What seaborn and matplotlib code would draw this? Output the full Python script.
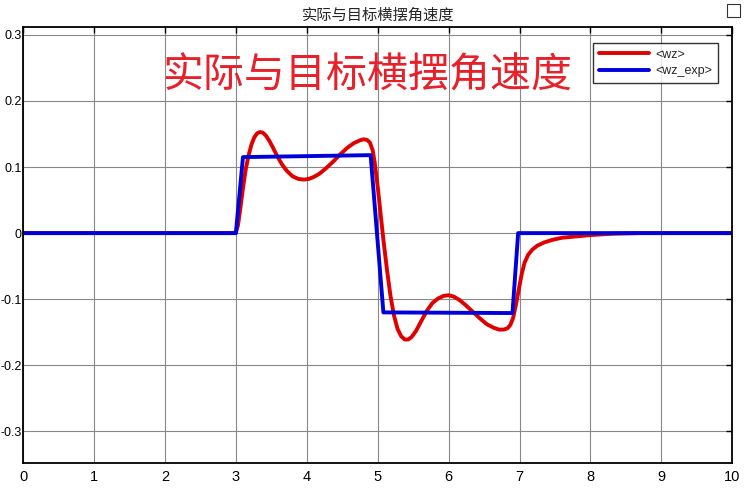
import pandas as pd
import matplotlib
matplotlib.use("Agg")
import matplotlib.pyplot as plt
import seaborn as sns
from matplotlib.patches import Rectangle

# datos
t_wz = [0, 2.95, 3.0, 3.03, 3.06, 3.1, 3.14, 3.18, 3.22, 3.26, 3.3, 3.34, 3.38, 3.42,
        3.47, 3.52, 3.58, 3.65, 3.72, 3.8, 3.88, 3.96, 4.03, 4.1, 4.18, 4.27, 4.37,
        4.47, 4.57, 4.66, 4.74, 4.8, 4.85, 4.89, 4.93, 4.96, 5.0, 5.04, 5.08,
        5.13, 5.18, 5.23, 5.28, 5.33, 5.38, 5.43, 5.48, 5.54, 5.61, 5.69, 5.77,
        5.85, 5.93, 6.0, 6.07, 6.15, 6.24, 6.34, 6.44, 6.54, 6.63, 6.71, 6.78,
        6.83, 6.87, 6.91, 6.95, 6.99, 7.03, 7.07, 7.12, 7.18, 7.25, 7.35, 7.47,
        7.6, 7.8, 8.0, 8.3, 8.7, 10]
wz = [0, 0, 0.001, 0.012, 0.035, 0.068, 0.097, 0.118, 0.134, 0.145, 0.151, 0.153,
      0.152, 0.148, 0.140, 0.130, 0.117, 0.104, 0.094, 0.086, 0.082, 0.081, 0.082,
      0.085, 0.090, 0.098, 0.108, 0.119, 0.129, 0.136, 0.140, 0.142, 0.141,
      0.137, 0.125, 0.105, 0.07, 0.03, -0.01, -0.055, -0.095, -0.125, -0.145,
      -0.156, -0.161, -0.161, -0.157, -0.148, -0.134, -0.118, -0.106, -0.099,
      -0.095, -0.094, -0.096, -0.101, -0.109, -0.119, -0.129, -0.138, -0.143,
      -0.146, -0.146, -0.144, -0.139, -0.128, -0.108, -0.085, -0.062, -0.045,
      -0.033, -0.025, -0.019, -0.014, -0.010, -0.007, -0.005, -0.003, -0.001, 0, 0]

t_exp = [0, 3.0, 3.1, 4.9, 5.08, 6.9, 6.98, 10]
wz_exp = [0, 0, 0.115, 0.118, -0.12, -0.121, 0, 0]

x_ticks = list(range(0, 11))
y_ticks = [-0.3, -0.2, -0.1, 0, 0.1, 0.2, 0.3]
y_labels = ["-0.3", "-0.2", "-0.1", "0", "0.1", "0.2", "0.3"]
titulo = "实际与目标横摆角速度"

df_wz = pd.DataFrame({"t": t_wz, "v": wz})
df_exp = pd.DataFrame({"t": t_exp, "v": wz_exp})

sns.set_style("white")
plt.rcParams["font.family"] = ["Liberation Sans", "Noto Sans CJK SC", "DejaVu Sans"]

fig = plt.figure(figsize=(7.45, 4.90), dpi=100)
ax = fig.add_axes([0.031, 0.055, 0.952, 0.89])

sns.lineplot(data=df_wz, x="t", y="v", ax=ax, color="#e00000", linewidth=2.8,
             label="<wz>", estimator=None, sort=False)
sns.lineplot(data=df_exp, x="t", y="v", ax=ax, color="#0000dd", linewidth=2.8,
             label="<wz_exp>", estimator=None, sort=False)

ax.set_xlim(0, 10)
ax.set_ylim(-0.348, 0.312)
ax.set_xticks(x_ticks)
ax.set_xticklabels([str(x) for x in x_ticks])
ax.set_yticks(y_ticks)
ax.set_yticklabels(y_labels)
ax.set_xlabel("")
ax.set_ylabel("")
ax.grid(True, color="#888888", linewidth=0.8)
ax.tick_params(direction="in", length=4, width=1, top=True, right=True,
               labelsize=10.5, pad=5, colors="black")
ax.tick_params(axis="y", pad=1, labelsize=9)
for s in ax.spines.values():
    s.set_color("black")
    s.set_linewidth(1.3)

ax.set_title(titulo, fontsize=11, family=["Noto Sans CJK SC", "DejaVu Sans"], pad=5)
ax.text(0.485, 0.888, titulo, transform=ax.transAxes, ha="center", va="center",
        fontsize=29.5, color="#e8202a", family=["Noto Sans CJK SC", "DejaVu Sans"])

leg = ax.legend(loc="upper right", bbox_to_anchor=(0.988, 0.977), fontsize=9,
                frameon=True, fancybox=False, edgecolor="black", handlelength=4.0,
                borderpad=0.45, labelspacing=0.35, handletextpad=0.5)
leg.get_frame().set_linewidth(1.0)
for t in leg.get_texts():
    t.set_family(["Liberation Sans", "DejaVu Sans"])
    t.set_fontsize(9)

# icono arriba a la derecha
fig.patches.append(Rectangle((727 / 745, 1 - 17 / 490), 13 / 745, 13 / 490,
                             transform=fig.transFigure, fill=False,
                             edgecolor="#333333", linewidth=0.8))

fig.savefig("out.png", dpi=100)
